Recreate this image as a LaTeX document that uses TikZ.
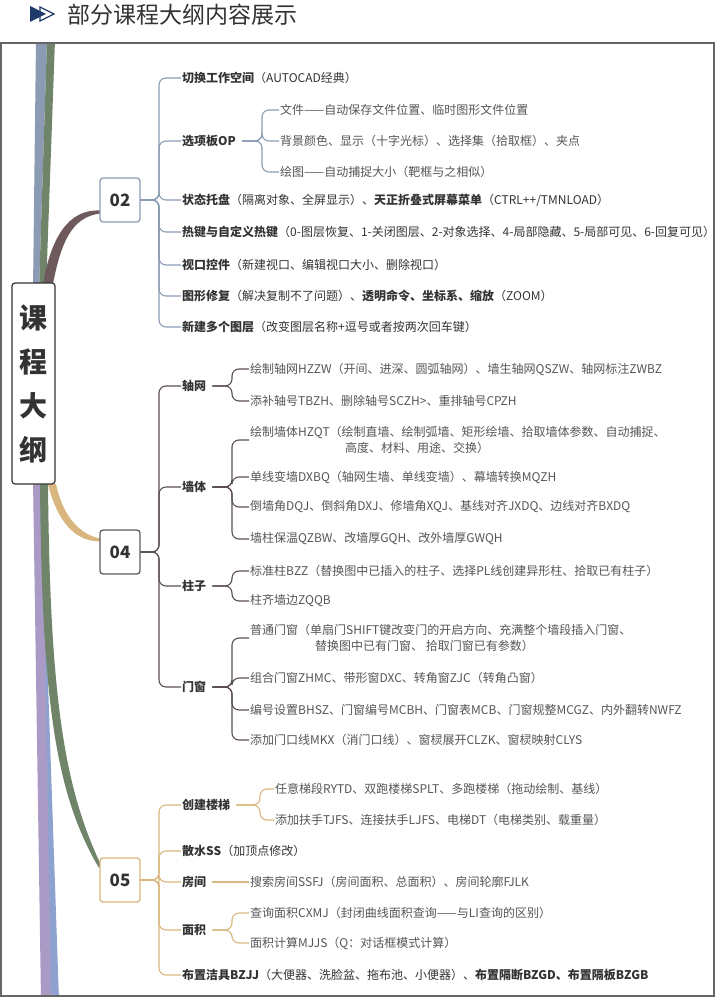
\documentclass[tikz,border=0pt]{standalone}
\usepackage{fontspec}
\setmainfont{Noto Sans CJK SC}
\usetikzlibrary{positioning}
\definecolor{mapink}{HTML}{333333}
\definecolor{mapmute}{HTML}{555555}
\definecolor{mapframe}{HTML}{666666}
\definecolor{mapnavy}{HTML}{1F3A6B}
\definecolor{mapbrown}{HTML}{6E5A5C}
\definecolor{mapslate}{HTML}{8B9BB3}
\definecolor{maptan}{HTML}{D8B67E}
\definecolor{mapdark}{HTML}{5B4E51}
\definecolor{mapgreen}{HTML}{6F8469}
\definecolor{mappurple}{HTML}{A99AC6}
\definecolor{mapblue}{HTML}{8EA2CF}
\tikzset{
  tp/.style={anchor=west, inner sep=1pt, align=left, font=\fontsize{12}{15.5}\selectfont, text=mapink},
  sub/.style={tp, text=mapmute},
  num/.style={draw, line width=1.3pt, rounded corners=3pt, fill=white, minimum width=40pt, minimum height=44pt, font=\fontsize{17}{20}\selectfont\bfseries, text=mapink},
  root/.style={draw=mapink, line width=1.2pt, rounded corners=3pt, fill=white, minimum width=43pt, minimum height=201pt, align=center, font=\fontsize{28}{44}\selectfont\bfseries, text=mapink},
  ln/.style={line width=1.1pt, rounded corners=7pt},
}
\begin{document}
\begin{tikzpicture}[x=1pt, y=-1pt]
  \useasboundingbox (0,0) rectangle (716,1000);
  % title
  \draw[mapnavy, line width=1.3pt, fill=white] (40,7) -- (54,14) -- (40,21) -- cycle;
  \fill[mapnavy] (30,6) -- (46,14) -- (30,22) -- cycle;
  \node[anchor=west, inner sep=0, font=\fontsize{23}{26}\selectfont, text=mapink] (title) at (67,15) {部分课程大纲内容展示};

  % main branches
  \begin{scope}
    \clip (1,43) rectangle (714,996);
    \fill[mapslate] (33,290) -- (39,290) -- (47,40) -- (36,40) -- cycle;
    \fill[mapgreen] (39,290) -- (46,290) -- (55,40) -- (47,40) -- cycle;
    \fill[mapblue] (37,480) -- (41,480) -- (59,1000) -- (49,1000) -- cycle;
    \fill[mappurple] (33,480) -- (42,480) -- (51,1000) -- (41,1000) -- cycle;
    \fill[mapgreen] (40,484) .. controls (42,705) and (56,795) .. (99,868)
      -- (101,865) .. controls (64,787) and (50,697) .. (48,484) -- cycle;
    \fill[mapbrown] (43,284) .. controls (51,238) and (68,209) .. (100,210.5)
      -- (100,213.5) .. controls (72,217) and (61,242) .. (53,284) -- cycle;
    \fill[maptan] (48,484) .. controls (55,513) and (70,541.5) .. (100,541.5)
      -- (100,538.5) .. controls (74,533) and (61,508) .. (56,484) -- cycle;
  \end{scope}

  \node[root] (r) at (33.5,383.5) {课\\程\\大\\纲};
  \node[num, draw=mapslate] (n02) at (120,200) {02};
  \node[num, draw=mapink!80] (n04) at (120,552) {04};
  \node[num, draw=maptan] (n05) at (120,880) {05};

  % 02
  \node[tp] (c1) at (181,78) {\textbf{切换工作空间}（AUTOCAD经典）};
  \node[tp] (c2) at (181,141) {\textbf{选项板OP}};
  \node[sub] (c2a) at (279,110) {文件——自动保存文件位置、临时图形文件位置};
  \node[sub] (c2b) at (279,141) {背景颜色、显示（十字光标）、选择集（拾取框）、夹点};
  \node[sub] (c2c) at (279,172) {绘图——自动捕捉大小（靶框与之相似）};
  \node[tp] (c3) at (181,200) {\textbf{状态托盘}（隔离对象、全屏显示）、\textbf{天正折叠式屏幕菜单}（CTRL++/TMNLOAD）};
  \node[tp] (c4) at (181,232) {\textbf{热键与自定义热键}（0-图层恢复、1-关闭图层、2-对象选择、4-局部隐藏、5-局部可见、6-回复可见）};
  \node[tp] (c5) at (181,265) {\textbf{视口控件}（新建视口、编辑视口大小、删除视口）};
  \node[tp] (c6) at (181,296) {\textbf{图形修复}（解决复制不了问题）、\textbf{透明命令、坐标系、缩放}（ZOOM）};
  \node[tp] (c7) at (181,327) {\textbf{新建多个图层}（改变图层名称+逗号或者按两次回车键）};

  % 04
  \node[tp] (d1) at (181,386) {\textbf{轴网}};
  \node[sub] (d1a) at (249,369) {绘制轴网HZZW（开间、进深、圆弧轴网）、墙生轴网QSZW、轴网标注ZWBZ};
  \node[sub] (d1b) at (249,401) {添补轴号TBZH、删除轴号SCZH>、重排轴号CPZH};
  \node[tp] (d2) at (181,487) {\textbf{墙体}};
  \node[sub] (d2a) at (249,440) {绘制墙体HZQT（绘制直墙、绘制弧墙、矩形绘墙、拾取墙体参数、自动捕捉、\\\hspace*{95pt}高度、材料、用途、交换）};
  \node[sub] (d2b) at (249,477) {单线变墙DXBQ（轴网生墙、单线变墙）、幕墙转换MQZH};
  \node[sub] (d2c) at (249,507) {倒墙角DQJ、倒斜角DXJ、修墙角XQJ、基线对齐JXDQ、边线对齐BXDQ};
  \node[sub] (d2d) at (249,539) {墙柱保温QZBW、改墙厚GQH、改外墙厚GWQH};
  \node[tp] (d3) at (181,586) {\textbf{柱子}};
  \node[sub] (d3a) at (249,571) {标准柱BZZ（替换图中已插入的柱子、选择PL线创建异形柱、拾取已有柱子）};
  \node[sub] (d3b) at (249,601) {柱齐墙边ZQQB};
  \node[tp] (d4) at (181,687) {\textbf{门窗}};
  \node[sub] (d4a) at (249,638) {普通门窗（单扇门SHIFT键改变门的开启方向、充满整个墙段插入门窗、\\\hspace*{65pt}替换图中已有门窗、 拾取门窗已有参数）};
  \node[sub] (d4b) at (249,678) {组合门窗ZHMC、带形窗DXC、转角窗ZJC（转角凸窗）};
  \node[sub] (d4c) at (249,710) {编号设置BHSZ、门窗编号MCBH、门窗表MCB、门窗规整MCGZ、内外翻转NWFZ};
  \node[sub] (d4d) at (249,740) {添加门口线MKX（消门口线）、窗棂展开CLZK、窗棂映射CLYS};

  % 05
  \node[tp] (e1) at (181,805) {\textbf{创建楼梯}};
  \node[sub] (e1a) at (274,789) {任意梯段RYTD、双跑楼梯SPLT、多跑楼梯（拖动绘制、基线）};
  \node[sub] (e1b) at (274,820) {添加扶手TJFS、连接扶手LJFS、电梯DT（电梯类别、载重量）};
  \node[tp] (e2) at (181,851) {\textbf{散水SS}（加顶点修改）};
  \node[tp] (e3) at (181,882) {\textbf{房间}};
  \node[sub] (e3a) at (249,882) {搜索房间SSFJ（房间面积、总面积）、房间轮廓FJLK};
  \node[tp] (e4) at (181,930) {\textbf{面积}};
  \node[sub] (e4a) at (249,913) {查询面积CXMJ（封闭曲线面积查询——与LI查询的区别）};
  \node[sub] (e4b) at (249,943) {面积计算MJJS（Q：对话框模式计算）};
  \node[tp] (e5) at (181,975) {\textbf{布置洁具BZJJ}（大便器、洗脸盆、拖布池、小便器）、\textbf{布置隔断BZGD、布置隔板BZGB}};

  % connectors
  \foreach \c in {c1,c2,c3,c4,c5,c6,c7}
    \draw[ln, mapslate] (n02.east) -- (159,200) |- (\c.west);
  \foreach \c in {c2a,c2b,c2c}
    \draw[ln, mapslate] ([xshift=5pt]c2.east) -- (262,141) |- (\c.west);
  \foreach \c in {d1,d2,d3,d4}
    \draw[ln, mapdark] (n04.east) -- (159,552) |- (\c.west);
  \foreach \c in {d1a,d1b}
    \draw[ln, mapdark] ([xshift=5pt]d1.east) -- (232,386) |- (\c.west);
  \foreach \c in {d2a,d2b,d2c,d2d}
    \draw[ln, mapdark] ([xshift=5pt]d2.east) -- (232,487) |- (\c.west);
  \foreach \c in {d3a,d3b}
    \draw[ln, mapdark] ([xshift=5pt]d3.east) -- (232,586) |- (\c.west);
  \foreach \c in {d4a,d4b,d4c,d4d}
    \draw[ln, mapdark] ([xshift=5pt]d4.east) -- (232,687) |- (\c.west);
  \foreach \c in {e1,e2,e3,e4,e5}
    \draw[ln, maptan] (n05.east) -- (159,880) |- (\c.west);
  \foreach \c in {e1a,e1b}
    \draw[ln, maptan] ([xshift=5pt]e1.east) -- (260,805) |- (\c.west);
  \draw[ln, maptan] ([xshift=5pt]e3.east) -- (e3a.west);
  \foreach \c in {e4a,e4b}
    \draw[ln, maptan] ([xshift=5pt]e4.east) -- (232,930) |- (\c.west);

  \draw[mapframe, line width=1.5pt] (1,43) rectangle (714,996);
\end{tikzpicture}
\end{document}
